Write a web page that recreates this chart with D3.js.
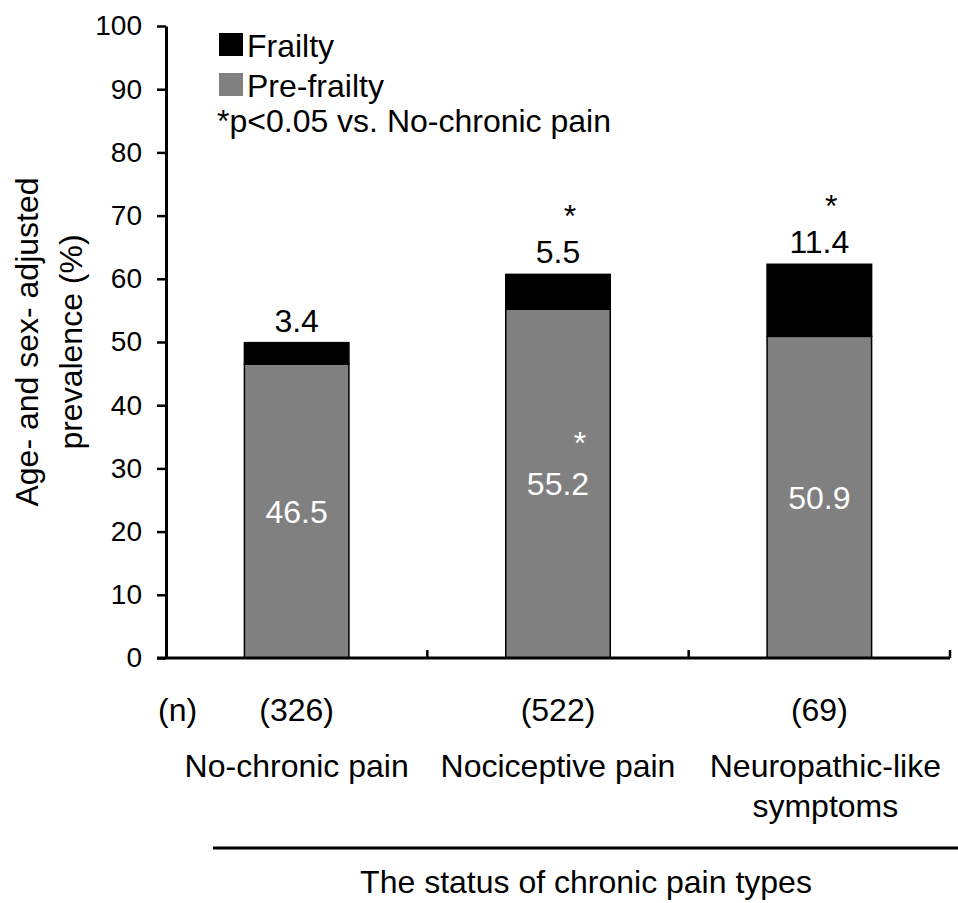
<!DOCTYPE html>
<html>
<head>
<meta charset="utf-8">
<script src="https://cdn.jsdelivr.net/npm/d3@7/dist/d3.min.js"></script>
<style>
  html, body { margin: 0; padding: 0; background: #fff; }
  svg { display: block; font-family: "Liberation Sans", Arial, sans-serif; }
</style>
</head>
<body>
<svg id="chart" width="958" height="903"></svg>
<script>
// ---- data ----
const categories = [["No-chronic pain"], ["Nociceptive pain"], ["Neuropathic-like", "symptoms"]];
const nLabels = ["(326)", "(522)", "(69)"];
const preFrailty = [46.5, 55.2, 50.9];
const frailty = [3.4, 5.5, 11.4];
const sigFrailty = [false, true, true];
const sigPreFrailty = [false, true, false];
const yTicks = [0, 10, 20, 30, 40, 50, 60, 70, 80, 90, 100];
const seriesNames = ["Frailty", "Pre-frailty"];
const yTitle = ["Age- and sex- adjusted", "prevalence (%)"];
const xTitle = "The status of chronic pain types";
const note = "*p<0.05 vs. No-chronic pain";

const colors = { "Pre-frailty": "#808080", "Frailty": "#000000" };

const rows = categories.map((c, i) => ({ key: i, "Pre-frailty": preFrailty[i], "Frailty": frailty[i] }));

const svg = d3.select("#chart");
const pLeft = 166, pRight = 950, pTop = 26, pBottom = 658;

const x = d3.scaleBand().domain(rows.map(d => d.key)).range([pLeft, pRight]).paddingInner(0.6).paddingOuter(0.3);
const y = d3.scaleLinear().domain([0, 100]).range([pBottom, pTop]);

const stack = d3.stack().keys(["Pre-frailty", "Frailty"]);
const stacked = stack(rows);

// bars
svg.append("g").selectAll("g").data(stacked).join("g")
  .attr("fill", s => colors[s.key])
  .selectAll("rect").data(s => s).join("rect")
  .attr("x", d => x(d.data.key))
  .attr("width", x.bandwidth())
  .attr("y", d => y(d[1]))
  .attr("height", d => y(d[0]) - y(d[1]))
  .attr("stroke", "#000")
  .attr("stroke-width", 1.5);

// y axis
const yAxis = d3.axisLeft(y).tickValues(yTicks).tickSize(9).tickSizeOuter(0).tickFormat(d3.format("d"));
const gy = svg.append("g").attr("transform", `translate(${pLeft},0)`).call(yAxis);
gy.select(".domain").attr("stroke", "#000").attr("stroke-width", 3);
gy.selectAll(".tick line").attr("stroke", "#000").attr("stroke-width", 2.5);
gy.selectAll(".tick text").attr("font-size", 28).attr("fill", "#000").attr("x", -24)
  .attr("font-family", "Liberation Sans, Arial, sans-serif");

// x axis
const xLin = d3.scaleLinear().domain([0, 3]).range([pLeft, pRight]);
svg.append("line").attr("x1", pLeft - 9).attr("x2", pRight).attr("y1", pBottom).attr("y2", pBottom)
  .attr("stroke", "#000").attr("stroke-width", 3);
svg.append("g").selectAll("line").data([1, 2, 3]).join("line")
  .attr("x1", d => xLin(d)).attr("x2", d => xLin(d))
  .attr("y1", pBottom).attr("y2", pBottom - 8)
  .attr("stroke", "#000").attr("stroke-width", 2.5);

const cx = i => x(i) + x.bandwidth() / 2;

// frailty labels on top
svg.append("g").selectAll("text").data(rows).join("text")
  .attr("x", d => cx(d.key))
  .attr("y", d => y(d["Pre-frailty"] + d["Frailty"]) - 11)
  .attr("text-anchor", "middle").attr("font-size", 32).attr("fill", "#000")
  .text(d => d["Frailty"].toFixed(1));

// pre-frailty labels inside
svg.append("g").selectAll("text").data(rows).join("text")
  .attr("x", d => cx(d.key))
  .attr("y", d => y(d["Pre-frailty"] / 2) + 11.5)
  .attr("text-anchor", "middle").attr("font-size", 32).attr("fill", "#fff")
  .text(d => d["Pre-frailty"].toFixed(1));

// significance stars
svg.append("g").selectAll("text").data(rows.filter(d => sigFrailty[d.key])).join("text")
  .attr("x", d => cx(d.key) + 12)
  .attr("y", d => y(d["Pre-frailty"] + d["Frailty"]) - 47)
  .attr("text-anchor", "middle").attr("font-size", 32).attr("fill", "#000")
  .text("*");
svg.append("g").selectAll("text").data(rows.filter(d => sigPreFrailty[d.key])).join("text")
  .attr("x", d => cx(d.key) + 22)
  .attr("y", d => y(d["Pre-frailty"] / 2) - 30)
  .attr("text-anchor", "middle").attr("font-size", 32).attr("fill", "#fff")
  .text("*");

// n labels
svg.append("text").attr("x", 158).attr("y", 721).attr("font-size", 32).attr("fill", "#000").text("(n)");
svg.append("g").selectAll("text").data(rows).join("text")
  .attr("x", d => cx(d.key)).attr("y", 721)
  .attr("text-anchor", "middle").attr("font-size", 32).attr("fill", "#000")
  .text(d => nLabels[d.key]);

// category labels
const catG = svg.append("g").selectAll("text").data(rows).join("text")
  .attr("text-anchor", "middle").attr("font-size", 32).attr("fill", "#000");
catG.selectAll("tspan").data(d => categories[d.key].map(t => ({ t, k: d.key }))).join("tspan")
  .attr("x", d => cx(d.k) + (d.k === 2 ? 6 : 0))
  .attr("y", (d, i) => 777 + i * 40)
  .text(d => d.t);

// divider line and x title
svg.append("line").attr("x1", 213).attr("x2", 958).attr("y1", 848).attr("y2", 848)
  .attr("stroke", "#000").attr("stroke-width", 3);
svg.append("text").attr("x", 586).attr("y", 893).attr("text-anchor", "middle")
  .attr("font-size", 32).attr("fill", "#000").text(xTitle);

// y title
const yt = svg.append("text").attr("transform", "translate(0,342) rotate(-90)")
  .attr("text-anchor", "middle").attr("font-size", 32).attr("fill", "#000");
yt.selectAll("tspan").data(yTitle).join("tspan")
  .attr("x", 0).attr("y", (d, i) => 38 + i * 44).text(d => d);

// legend
const lg = svg.append("g");
seriesNames.forEach((name, i) => {
  lg.append("rect").attr("x", 219).attr("y", 33 + i * 40).attr("width", 24).attr("height", 23)
    .attr("fill", colors[name]);
  lg.append("text").attr("x", 247).attr("y", 57 + i * 40).attr("font-size", 32).attr("fill", "#000").text(name);
});
lg.append("text").attr("x", 217).attr("y", 132).attr("font-size", 32).attr("fill", "#000").text(note);
</script>
</body>
</html>
